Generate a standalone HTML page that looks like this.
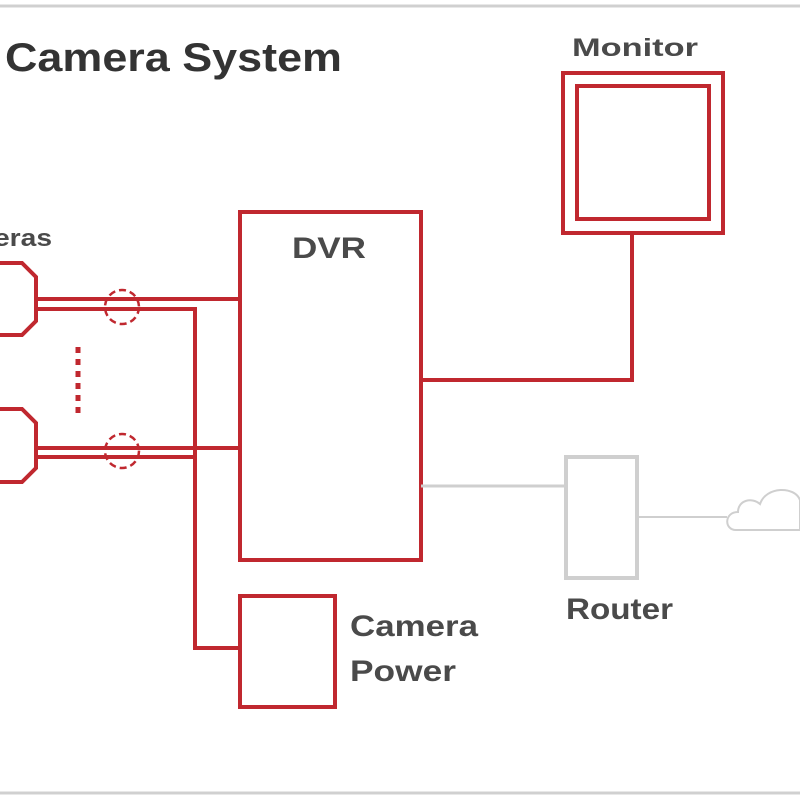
<!DOCTYPE html>
<html><head><style>html,body{margin:0;padding:0;background:#fff}</style></head>
<body>
<svg width="800" height="800" viewBox="0 0 800 800" xmlns="http://www.w3.org/2000/svg" style="display:block">
<g fill="none" stroke="#d0d0d0" stroke-width="3">
<line x1="0" y1="6" x2="800" y2="6"/>
<line x1="0" y1="793" x2="800" y2="793"/>
</g>
<g font-family="Liberation Sans, sans-serif" font-weight="bold" fill="#4a4a4a" lengthAdjust="spacingAndGlyphs">
<text x="5" y="71" font-size="40" fill="#333" textLength="337" lengthAdjust="spacingAndGlyphs">Camera System</text>
<text x="572" y="56" font-size="25" textLength="126" lengthAdjust="spacingAndGlyphs">Monitor</text>
<text x="292" y="258" font-size="30" textLength="74" lengthAdjust="spacingAndGlyphs">DVR</text>
<text x="-6" y="246" font-size="24" textLength="58" lengthAdjust="spacingAndGlyphs">eras</text>
<text x="350" y="636" font-size="30" textLength="128" lengthAdjust="spacingAndGlyphs">Camera</text>
<text x="350" y="681" font-size="30" textLength="106" lengthAdjust="spacingAndGlyphs">Power</text>
<text x="566" y="619" font-size="30" textLength="107" lengthAdjust="spacingAndGlyphs">Router</text>
</g>
<g fill="none" stroke="#c0282f" stroke-width="4">
<rect x="563" y="73" width="160" height="160"/>
<rect x="577" y="86" width="132" height="133"/>
<rect x="240" y="212" width="181" height="348"/>
<rect x="240" y="596" width="95" height="111"/>
<path d="M-5 263 H22 L36 277 V321 L22 335 H-5"/>
<path d="M-5 409 H22 L36 423 V468 L22 482 H-5"/>
<path d="M37 299 H240 M37 309 H195 V648 H240"/>
<path d="M37 448 H240 M37 457 H195"/>
<path d="M421 380 H632 V233"/>
</g>
<g fill="none" stroke="#c0282f" stroke-width="2.5" stroke-dasharray="7 4">
<circle cx="122" cy="307" r="17"/>
<circle cx="122" cy="451" r="17"/>
</g>
<line x1="78" y1="347" x2="78" y2="416" stroke="#c0282f" stroke-width="5" stroke-dasharray="6 6"/>
<g fill="none" stroke="#cfcfcf">
<line x1="421" y1="486" x2="566" y2="486" stroke-width="3"/>
<rect x="566" y="457" width="71" height="121" stroke-width="4"/>
<line x1="637" y1="517" x2="727" y2="517" stroke-width="2"/>
<path d="M736 530 C724 530 724 512 738 512 C738 500 752 497 760 504 C766 486 795 486 800 500 V530 Z" stroke-width="2"/>
</g>
</svg>
</body></html>
